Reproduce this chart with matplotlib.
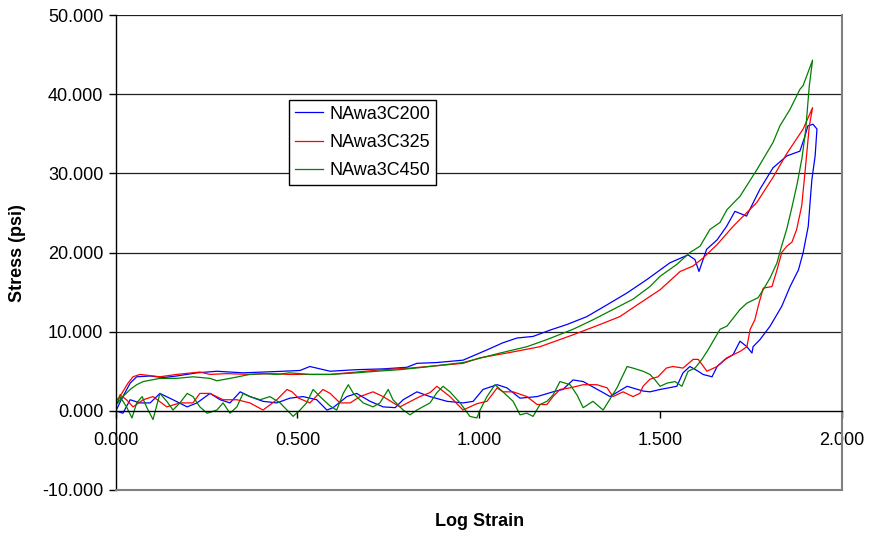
import matplotlib
matplotlib.use('Agg')
from matplotlib import pyplot as plt
from matplotlib.ticker import FormatStrFormatter
import numpy as np

plt.rcParams['font.family'] = ['Liberation Sans', 'DejaVu Sans']
plt.rcParams['font.size'] = 13

# (log strain, stress psi) pairs, loading branch then unloading branch
c200_load = [(0.000, 0.0), (0.006, 0.6), (0.019, 1.8), (0.039, 3.5), (0.057, 4.3),
             (0.094, 4.4), (0.130, 4.2), (0.167, 4.4), (0.223, 4.8), (0.278, 5.0),
             (0.350, 4.8), (0.405, 4.9), (0.460, 5.0), (0.507, 5.1), (0.534, 5.6),
             (0.590, 5.0), (0.663, 5.2), (0.736, 5.3), (0.801, 5.5), (0.829, 6.0),
             (0.884, 6.1), (0.956, 6.4), (1.022, 7.7), (1.066, 8.6), (1.105, 9.2),
             (1.149, 9.4), (1.196, 10.2), (1.242, 10.9), (1.297, 11.9), (1.353, 13.4),
             (1.408, 14.9), (1.463, 16.6), (1.526, 18.7), (1.576, 19.7), (1.595, 19.1),
             (1.606, 17.6), (1.627, 20.4), (1.656, 21.6), (1.682, 23.3), (1.705, 25.2),
             (1.737, 24.6), (1.774, 28.0), (1.810, 30.7), (1.848, 32.2), (1.884, 32.8),
             (1.898, 34.7), (1.906, 36.0), (1.920, 36.2), (1.931, 35.6)]
c200_unload = [(1.926, 32.2), (1.917, 29.2), (1.912, 26.3), (1.907, 23.3), (1.893, 20.0),
               (1.880, 17.8), (1.857, 15.7), (1.834, 13.2), (1.802, 10.7), (1.774, 9.0),
               (1.755, 8.1), (1.752, 7.3), (1.738, 8.1), (1.719, 8.8), (1.700, 7.1),
               (1.678, 6.5), (1.656, 5.6), (1.642, 4.3), (1.617, 4.6), (1.604, 5.0),
               (1.581, 5.6), (1.562, 4.8), (1.545, 3.1), (1.499, 2.7), (1.471, 2.4),
               (1.452, 2.5), (1.408, 3.1), (1.361, 1.8), (1.342, 2.3), (1.287, 3.7),
               (1.259, 3.9), (1.231, 2.7), (1.204, 2.4), (1.160, 1.8), (1.113, 1.6),
               (1.077, 2.9), (1.050, 3.3), (1.011, 2.7), (0.984, 1.2), (0.956, 1.0),
               (0.912, 1.2), (0.865, 1.8), (0.829, 2.4), (0.791, 1.4), (0.769, 0.4),
               (0.736, 0.5), (0.700, 1.2), (0.663, 2.2), (0.636, 1.8), (0.598, 0.4),
               (0.581, 0.1), (0.553, 1.4), (0.515, 1.8), (0.479, 1.6), (0.443, 1.0),
               (0.405, 1.2), (0.369, 1.8), (0.342, 2.4), (0.314, 1.0), (0.287, 1.4),
               (0.259, 2.2), (0.223, 1.0), (0.196, 0.5), (0.157, 1.4), (0.121, 2.2),
               (0.094, 1.0), (0.066, 1.0), (0.039, 1.4), (0.019, -0.3), (0.006, -0.1)]

c325_load = [(0.003, 1.4), (0.016, 2.2), (0.033, 3.5), (0.047, 4.3), (0.066, 4.6),
             (0.121, 4.3), (0.167, 4.6), (0.231, 4.9), (0.259, 4.6), (0.305, 4.7),
             (0.369, 4.6), (0.424, 4.7), (0.479, 4.6), (0.534, 4.6), (0.590, 4.6),
             (0.663, 4.9), (0.736, 5.2), (0.810, 5.4), (0.884, 5.7), (0.956, 6.0),
             (1.003, 6.7), (1.077, 7.3), (1.168, 8.1), (1.259, 9.6), (1.333, 10.9),
             (1.388, 11.9), (1.443, 13.6), (1.499, 15.3), (1.554, 17.6), (1.590, 18.3),
             (1.617, 19.3), (1.656, 21.0), (1.700, 23.3), (1.765, 26.3), (1.810, 29.5),
             (1.848, 32.5), (1.893, 35.6), (1.919, 38.3)]
c325_unload = [(1.910, 36.0), (1.898, 30.1), (1.889, 25.9), (1.875, 22.9), (1.862, 21.3),
               (1.848, 20.8), (1.834, 20.0), (1.821, 17.8), (1.807, 15.7), (1.783, 15.5),
               (1.769, 13.2), (1.760, 11.5), (1.747, 10.3), (1.738, 8.1), (1.719, 7.5),
               (1.683, 6.7), (1.656, 5.6), (1.628, 5.0), (1.604, 6.5), (1.590, 6.5),
               (1.562, 5.4), (1.534, 5.6), (1.516, 5.4), (1.493, 4.3), (1.471, 4.0),
               (1.452, 3.1), (1.443, 2.2), (1.424, 1.8), (1.397, 2.4), (1.369, 1.8),
               (1.353, 2.9), (1.325, 3.3), (1.287, 3.3), (1.251, 2.9), (1.223, 2.7),
               (1.204, 1.8), (1.187, 0.8), (1.160, 0.8), (1.132, 1.8), (1.094, 2.4),
               (1.066, 2.4), (1.050, 2.9), (1.022, 1.2), (0.994, 0.9), (0.956, 0.1),
               (0.920, 1.8), (0.884, 3.1), (0.865, 2.3), (0.837, 1.8), (0.782, 0.5),
               (0.764, 1.0), (0.736, 1.8), (0.708, 2.4), (0.672, 1.8), (0.645, 1.0),
               (0.617, 1.0), (0.590, 2.2), (0.570, 2.7), (0.534, 1.0), (0.503, 1.6),
               (0.485, 2.4), (0.471, 2.7), (0.443, 1.4), (0.405, 0.1), (0.369, 1.0),
               (0.333, 1.4), (0.295, 1.4), (0.259, 2.2), (0.231, 2.2), (0.212, 1.0),
               (0.176, 1.0), (0.140, 0.5), (0.102, 1.8), (0.075, 1.4), (0.047, 0.5),
               (0.029, 1.4), (0.011, 2.0)]

c450_load = [(0.003, 0.9), (0.019, 1.8), (0.039, 2.7), (0.057, 3.3), (0.075, 3.7),
             (0.121, 4.1), (0.167, 4.1), (0.212, 4.3), (0.259, 4.1), (0.278, 3.8),
             (0.314, 4.1), (0.369, 4.6), (0.405, 4.7), (0.443, 4.6), (0.479, 4.8),
             (0.534, 4.6), (0.590, 4.6), (0.663, 4.8), (0.718, 5.0), (0.782, 5.2),
             (0.846, 5.5), (0.901, 5.8), (0.956, 6.1), (1.058, 7.3), (1.132, 8.1),
             (1.187, 9.0), (1.259, 10.3), (1.314, 11.5), (1.369, 12.8), (1.424, 14.1),
             (1.471, 15.7), (1.499, 17.0), (1.545, 18.5), (1.581, 20.0), (1.609, 20.8),
             (1.636, 22.9), (1.664, 23.8), (1.683, 25.4), (1.719, 27.1), (1.766, 30.5),
             (1.810, 33.9), (1.829, 36.0), (1.857, 38.1), (1.884, 40.6), (1.893, 41.1),
             (1.919, 44.3)]
c450_unload = [(1.910, 41.1), (1.900, 35.5), (1.890, 32.0), (1.877, 28.8), (1.863, 25.9),
               (1.848, 23.0), (1.831, 20.4), (1.821, 18.7), (1.802, 16.8), (1.783, 15.3),
               (1.769, 14.3), (1.738, 13.6), (1.719, 12.8), (1.700, 11.7), (1.683, 10.7),
               (1.664, 10.3), (1.650, 9.2), (1.631, 7.7), (1.614, 6.5), (1.595, 5.4),
               (1.576, 5.0), (1.559, 3.1), (1.540, 3.7), (1.518, 3.5), (1.499, 3.1),
               (1.485, 3.9), (1.471, 4.6), (1.452, 5.0), (1.424, 5.4), (1.408, 5.6),
               (1.380, 2.9), (1.342, 0.1), (1.314, 1.2), (1.287, 0.4), (1.270, 2.0),
               (1.251, 3.3), (1.223, 3.7), (1.204, 2.0), (1.187, 1.2), (1.168, 0.8),
               (1.149, -0.7), (1.132, -0.3), (1.113, -0.5), (1.094, 1.2), (1.066, 2.4),
               (1.044, 3.3), (1.022, 1.8), (1.003, 0.1), (0.994, -0.9), (0.975, -0.7),
               (0.948, 1.0), (0.920, 2.4), (0.901, 3.1), (0.884, 2.3), (0.865, 1.0),
               (0.829, 0.1), (0.810, -0.5), (0.791, 0.1), (0.763, 1.4), (0.750, 2.7),
               (0.727, 1.0), (0.708, 0.5), (0.681, 1.0), (0.654, 2.2), (0.640, 3.3),
               (0.626, 2.2), (0.608, 0.1), (0.590, 0.6), (0.562, 1.8), (0.543, 2.7),
               (0.525, 1.0), (0.507, 0.1), (0.488, -0.7), (0.471, 0.1), (0.452, 1.0),
               (0.424, 1.8), (0.397, 1.4), (0.369, 1.8), (0.350, 2.2), (0.333, 0.5),
               (0.314, -0.3), (0.295, 1.0), (0.278, 0.1), (0.251, -0.3), (0.231, 0.5),
               (0.212, 1.8), (0.196, 2.2), (0.176, 1.0), (0.157, 0.1), (0.140, 1.2),
               (0.121, 2.2), (0.102, -1.1), (0.084, 0.5), (0.072, 1.8), (0.057, 1.0),
               (0.044, -0.9), (0.029, 0.5), (0.011, 1.8), (0.003, 1.0)]

series_names = ['NAwa3C200', 'NAwa3C325', 'NAwa3C450']
series_colors = ['#0000FF', '#FF0000', '#008000']
series_data = [c200_load + c200_unload, c325_load + c325_unload, c450_load + c450_unload]

x_ticks = [0.0, 0.5, 1.0, 1.5, 2.0]
y_ticks = [-10, 0, 10, 20, 30, 40, 50]

fig = plt.figure(figsize=(8.7, 5.36), dpi=100)
ax = fig.add_axes([116 / 870, 46 / 536, 726 / 870, 475 / 536])

# horizontal gridlines
for y in y_ticks[2:]:
    ax.axhline(y, color='#202020', lw=0.9, zorder=0)

for name, color, pts in zip(series_names, series_colors, series_data):
    pts = np.array(pts)
    ax.plot(pts[:, 0], pts[:, 1], color=color, lw=0.9, label=name)

ax.set_xlim(0, 2)
ax.set_ylim(-10, 50)
ax.set_xticks(x_ticks)
ax.set_yticks(y_ticks)
ax.xaxis.set_major_formatter(FormatStrFormatter('%.3f'))
ax.yaxis.set_major_formatter(FormatStrFormatter('%.3f'))

# x axis crosses at zero stress, plot-area border in gray
ax.spines['bottom'].set_position(('data', 0))
ax.spines['bottom'].set_color('black')
ax.spines['bottom'].set_linewidth(1)
ax.spines['left'].set_linewidth(1)
ax.spines['top'].set_visible(False)
ax.spines['right'].set_color('#808080')
ax.spines['right'].set_linewidth(1.5)
ax.axhline(-10, color='#808080', lw=1.5, clip_on=False, zorder=3)

ax.tick_params(axis='x', direction='out', length=5, width=1, pad=10, labelsize=13)
ax.tick_params(axis='y', direction='out', length=5, width=1, pad=4, labelsize=13)

fig.text(480 / 870, 1 - 522 / 536, 'Log Strain', ha='center', va='center',
         fontsize=13, fontweight='bold')
fig.text(18 / 870, 1 - 253 / 536, 'Stress (psi)', ha='center', va='center',
         rotation=90, fontsize=13, fontweight='bold')

leg = ax.legend(loc='upper left', bbox_to_anchor=(0.238, 0.821), borderaxespad=0,
                fancybox=False, edgecolor='black', framealpha=1, fontsize=13,
                handlelength=1.6, handletextpad=0.35, labelspacing=0.62, borderpad=0.32)
leg.get_frame().set_linewidth(1)

fig.savefig('out.png', dpi=100)
